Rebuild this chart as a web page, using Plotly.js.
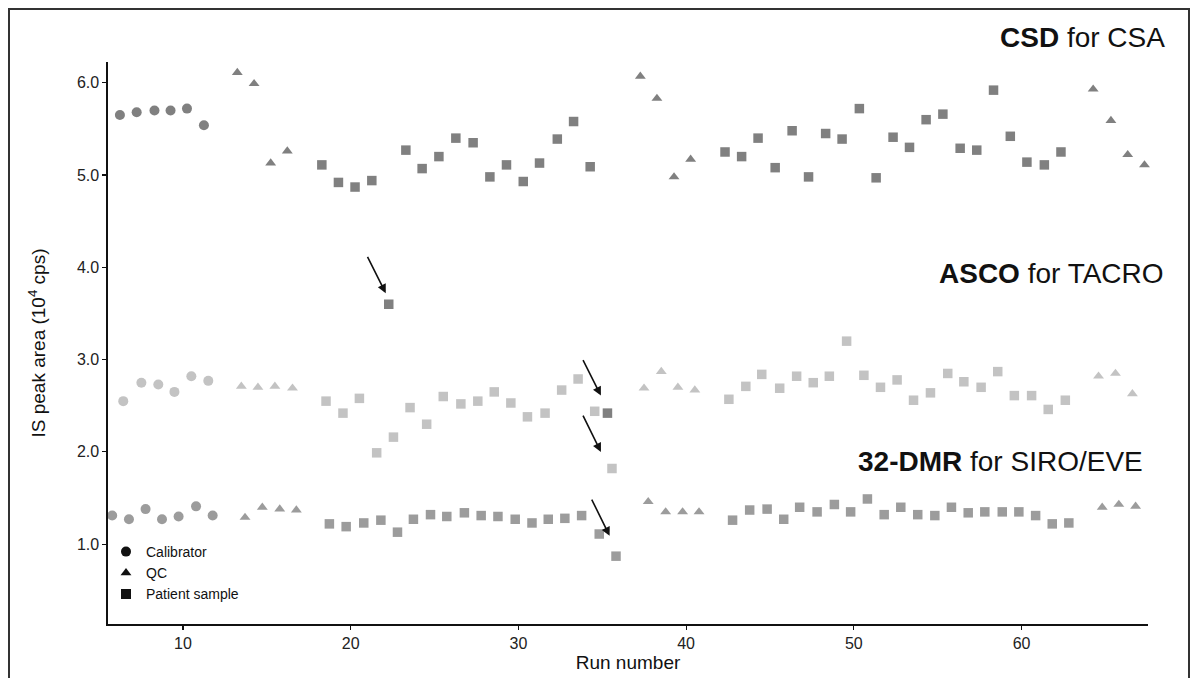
<!DOCTYPE html>
<html>
<head>
<meta charset="utf-8">
<script src="https://cdn.plot.ly/plotly-3.0.1.min.js"></script>
<style>html,body{margin:0;padding:0;background:#fff;}#chart{width:1197px;height:678px;}</style>
</head>
<body>
<div id="chart"></div>
<script>
// ---------- DATA (run position, IS peak area in 10^4 cps) ----------
// CSD for CSA
var csdCalX = [6.24, 7.24, 8.30, 9.26, 10.24, 11.25];
var csdCalY = [5.65, 5.68, 5.70, 5.70, 5.72, 5.54];
var csdQcX = [13.24, 14.24, 15.23, 16.22, 37.27, 38.26, 39.28, 40.27, 64.27, 65.33, 66.33, 67.33];
var csdQcY = [6.11, 5.99, 5.13, 5.26, 6.07, 5.83, 4.98, 5.17, 5.93, 5.59, 5.22, 5.11];
var csdPatX = [18.28, 19.27, 20.26, 21.26, 22.27, 23.29, 24.26, 25.26, 26.27, 27.30, 28.30, 29.29, 30.29, 31.26, 32.32, 33.29, 34.28, 35.31,
               42.32, 43.31, 44.29, 45.31, 46.32, 47.30, 48.32, 49.30, 50.33, 51.33, 52.34, 53.32, 54.31, 55.31, 56.34, 57.33, 58.33, 59.33, 60.32, 61.36, 62.35];
var csdPatY = [5.11, 4.92, 4.87, 4.94, 3.60, 5.27, 5.07, 5.20, 5.40, 5.35, 4.98, 5.11, 4.93, 5.13, 5.39, 5.58, 5.09, 2.42,
               5.25, 5.20, 5.40, 5.08, 5.48, 4.98, 5.45, 5.39, 5.72, 4.97, 5.41, 5.30, 5.60, 5.66, 5.29, 5.27, 5.92, 5.42, 5.14, 5.11, 5.25];
// ASCO for TACRO
var ascoCalX = [6.44, 7.52, 8.53, 9.49, 10.50, 11.51];
var ascoCalY = [2.55, 2.75, 2.73, 2.65, 2.82, 2.77];
var ascoQcX = [13.48, 14.47, 15.48, 16.53, 37.49, 38.52, 39.51, 40.52, 64.59, 65.60, 66.61, 67.60];
var ascoQcY = [2.71, 2.70, 2.71, 2.69, 2.69, 2.87, 2.70, 2.67, 2.82, 2.85, 2.63, 2.77];
var ascoPatX = [18.53, 19.54, 20.52, 21.55, 22.55, 23.54, 24.53, 25.52, 26.57, 27.58, 28.56, 29.55, 30.54, 31.59, 32.58, 33.56, 34.55, 35.58,
                42.55, 43.56, 44.51, 45.58, 46.59, 47.58, 48.54, 49.57, 50.60, 51.59, 52.58, 53.56, 54.57, 55.60, 56.56, 57.59, 58.58, 59.57, 60.60, 61.59, 62.61];
var ascoPatY = [2.55, 2.42, 2.58, 1.99, 2.16, 2.48, 2.30, 2.60, 2.52, 2.55, 2.65, 2.53, 2.38, 2.42, 2.67, 2.79, 2.44, 1.82,
                2.57, 2.71, 2.84, 2.69, 2.82, 2.75, 2.82, 3.20, 2.83, 2.70, 2.78, 2.56, 2.64, 2.85, 2.76, 2.70, 2.87, 2.61, 2.61, 2.46, 2.56];
// 32-DMR for SIRO/EVE
var dmrCalX = [5.78, 6.78, 7.77, 8.75, 9.74, 10.78, 11.77];
var dmrCalY = [1.31, 1.27, 1.38, 1.27, 1.30, 1.41, 1.31];
var dmrQcX = [13.70, 14.73, 15.77, 16.76, 37.74, 38.78, 39.79, 40.77, 64.81, 65.80, 66.80];
var dmrQcY = [1.29, 1.40, 1.38, 1.37, 1.46, 1.35, 1.35, 1.35, 1.40, 1.43, 1.41];
var dmrPatX = [18.73, 19.73, 20.78, 21.80, 22.79, 23.74, 24.76, 25.73, 26.78, 27.78, 28.78, 29.81, 30.81, 31.78, 32.77, 33.77, 34.82, 35.82,
               42.77, 43.79, 44.83, 45.82, 46.77, 47.81, 48.84, 49.81, 50.81, 51.81, 52.80, 53.81, 54.83, 55.82, 56.82, 57.81, 58.85, 59.84, 60.84, 61.83, 62.82];
var dmrPatY = [1.22, 1.19, 1.23, 1.26, 1.13, 1.27, 1.32, 1.30, 1.34, 1.31, 1.30, 1.27, 1.23, 1.27, 1.28, 1.31, 1.11, 0.87,
               1.26, 1.37, 1.38, 1.27, 1.40, 1.35, 1.43, 1.35, 1.49, 1.32, 1.40, 1.32, 1.31, 1.40, 1.34, 1.35, 1.35, 1.35, 1.31, 1.22, 1.23];
// arrows: [tailX, tailY, headX, headY]
var arrowList = [
  [20.96, 4.13, 22.09, 3.72],
  [33.81, 3.01, 34.92, 2.61],
  [33.81, 2.41, 34.92, 2.00],
  [34.33, 1.50, 35.44, 1.09]
];
var assayLabels = ['<b>CSD</b> for CSA', '<b>ASCO</b> for TACRO', '<b>32-DMR</b> for SIRO/EVE'];
var legendNames = ['Calibrator', 'QC', 'Patient sample'];
var xTicks = [10, 20, 30, 40, 50, 60];
var yTicks = [1, 2, 3, 4, 5, 6];

// ---------- STYLE ----------
var FONT = 'Liberation Sans, Arial, Helvetica, sans-serif';
var colCSD = '#808080', colASCO = '#c3c3c3', colDMR = '#9c9c9c';
var symCal = 'circle', symQc = 'triangle-up', symPat = 'square';
var sizeCal = 10, sizeQc = 9.5, sizePat = 9.5;

function tr(x, y, col, sym, size) {
  return {x: x, y: y, type: 'scatter', mode: 'markers', showlegend: false, cliponaxis: false,
          hoverinfo: 'x+y',
          marker: {color: col, symbol: sym, size: size, line: {width: 0}}};
}
var data = [
  tr(csdCalX, csdCalY, colCSD, symCal, sizeCal),
  tr(csdQcX, csdQcY, colCSD, symQc, sizeQc),
  tr(csdPatX, csdPatY, colCSD, symPat, sizePat),
  tr(ascoCalX, ascoCalY, colASCO, symCal, sizeCal),
  tr(ascoQcX, ascoQcY, colASCO, symQc, sizeQc),
  tr(ascoPatX, ascoPatY, colASCO, symPat, sizePat),
  tr(dmrCalX, dmrCalY, colDMR, symCal, sizeCal),
  tr(dmrQcX, dmrQcY, colDMR, symQc, sizeQc),
  tr(dmrPatX, dmrPatY, colDMR, symPat, sizePat)
];
var legSyms = [symCal, symQc, symPat];
var legSizes = [10, 9.5, 10];
for (var i = 0; i < 3; i++) {
  data.push({x: [null], y: [null], type: 'scatter', mode: 'markers', name: legendNames[i], showlegend: true,
             marker: {color: '#111', symbol: legSyms[i], size: legSizes[i]}});
}

// pixel helpers for non-data decorations
var L = 108, R = 1148, T = 62, B = 624;
function px(xp) { return (xp - L) / (R - L); }
function py(yp) { return (B - yp) / (B - T); }

var annotations = [];
arrowList.forEach(function (a) {
  annotations.push({x: a[2], y: a[3], ax: a[0], ay: a[1], xref: 'x', yref: 'y', axref: 'x', ayref: 'y',
                    text: '', showarrow: true, arrowhead: 2, arrowsize: 1.1, arrowwidth: 1.6, arrowcolor: '#111', standoff: 0});
});
var labelPos = [[1167, 38], [1166, 273], [1145, 462]];
assayLabels.forEach(function (t, i) {
  annotations.push({text: t, xref: 'paper', yref: 'paper', x: px(labelPos[i][0]), y: py(labelPos[i][1]),
                    xanchor: 'right', yanchor: 'middle', showarrow: false,
                    font: {family: FONT, size: 28, color: '#111'}});
});

var layout = {
  width: 1197, height: 678,
  margin: {l: L, r: 1197 - R, t: T, b: 678 - B},
  paper_bgcolor: '#fff', plot_bgcolor: '#fff',
  font: {family: FONT, color: '#222'},
  showlegend: true,
  legend: {x: px(106), y: py(536), xanchor: 'left', yanchor: 'top', bgcolor: 'rgba(0,0,0,0)',
           font: {family: FONT, size: 14, color: '#111'}, tracegroupgap: 0, itemwidth: 30},
  xaxis: {range: [5.53, 67.54], tickvals: xTicks, ticktext: xTicks.map(String),
          showline: true, linecolor: '#111', linewidth: 1.6, ticks: 'outside', ticklen: 4, tickcolor: '#111', tickwidth: 1.2,
          showgrid: false, zeroline: false, tickfont: {family: FONT, size: 16, color: '#222'},
          title: {text: 'Run number', font: {family: FONT, size: 19, color: '#111'}, standoff: 2}},
  yaxis: {range: [0.135, 6.225], tickvals: yTicks, ticktext: yTicks.map(function (v) { return v.toFixed(1); }),
          showline: true, linecolor: '#111', linewidth: 1.6, ticks: 'outside', ticklen: 4, tickcolor: '#111', tickwidth: 1.2,
          showgrid: false, zeroline: false, tickfont: {family: FONT, size: 16, color: '#222'},
          title: {text: 'IS peak area (10<sup>4</sup> cps)', font: {family: FONT, size: 19, color: '#111'}, standoff: 26}},
  annotations: annotations,
  shapes: [{type: 'rect', xref: 'paper', yref: 'paper', x0: px(9), x1: px(1189), y0: py(690), y1: py(9),
            line: {color: '#333', width: 2}, fillcolor: 'rgba(0,0,0,0)', layer: 'below'}]
};

Plotly.newPlot('chart', data, layout, {displayModeBar: false, staticPlot: true});
</script>
</body>
</html>
